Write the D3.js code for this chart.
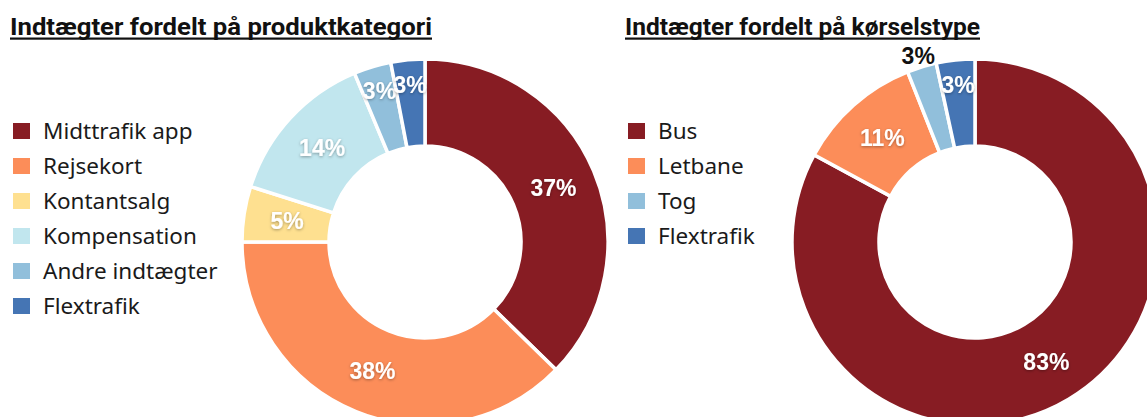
<!DOCTYPE html>
<html>
<head>
<meta charset="utf-8">
<script src="https://cdn.jsdelivr.net/npm/d3@7"></script>
<style>
  body { margin: 0; background: #fff; }
  svg { display: block; }
</style>
</head>
<body>
<div id="chart"></div>
<script>
// data
const produktKategorier = ["Midttrafik app", "Rejsekort", "Kontantsalg", "Kompensation", "Andre indtægter", "Flextrafik"];
const produktAndele = [37.3, 37.7, 4.9, 13.8, 3.3, 3.0];
const produktFarver = ["#871C23", "#FC8D59", "#FEE090", "#C1E6EE", "#91BFDB", "#4575B4"];

const koerselsTyper = ["Bus", "Letbane", "Tog", "Flextrafik"];
const koerselsAndele = [82.9, 11.1, 2.6, 3.4];
const koerselsFarver = ["#871C23", "#FC8D59", "#91BFDB", "#4575B4"];

const titler = ["Indtægter fordelt på produktkategori", "Indtægter fordelt på kørselstype"];

const width = 1147, height = 417;
const svg = d3.select("#chart").append("svg")
  .attr("width", width)
  .attr("height", height);

svg.append("rect").attr("width", width).attr("height", height).attr("fill", "#fff");

// skygge til labels
const filter = svg.append("defs").append("filter")
  .attr("id", "shadow")
  .attr("x", "-20%").attr("y", "-30%")
  .attr("width", "140%").attr("height", "160%");
filter.append("feDropShadow")
  .attr("dx", 0).attr("dy", 1)
  .attr("stdDeviation", 1.4)
  .attr("flood-color", "#000")
  .attr("flood-opacity", 0.35);

const rOuter = 183, rInner = 96;

function drawTitle(text, x, targetW) {
  svg.append("text")
    .attr("x", x)
    .attr("y", 35)
    .attr("font-family", "Roboto, 'Liberation Sans', sans-serif")
    .attr("font-weight", "bold")
    .attr("font-size", 24)
    .attr("fill", "#111")
    .attr("textLength", targetW)
    .attr("lengthAdjust", "spacingAndGlyphs")
    .text(text);
  // understregning
  svg.append("rect")
    .attr("x", x)
    .attr("y", 37.5)
    .attr("width", targetW)
    .attr("height", 2.2)
    .attr("fill", "#111");
}

function drawLegend(cats, colors, x) {
  const g = svg.append("g").attr("transform", `translate(${x},131)`);
  const row = g.selectAll("g")
    .data(cats)
    .enter().append("g")
    .attr("transform", (d, i) => `translate(0, ${i * 35})`);
  row.append("rect")
    .attr("x", 0).attr("y", -8)
    .attr("width", 17).attr("height", 16)
    .attr("fill", (d, i) => colors[i]);
  row.append("text")
    .attr("x", 30)
    .attr("y", 0)
    .attr("dy", "0.36em")
    .attr("font-family", "'Noto Sans', 'Open Sans', sans-serif")
    .attr("font-size", 22.5)
    .attr("fill", "#1a1a1a")
    .text(d => d);
}

function drawDonut(vals, colors, cx, cy, outside) {
  const pie = d3.pie().sort(null).value(d => d);
  const arcs = pie(vals);
  const arc = d3.arc().innerRadius(rInner).outerRadius(rOuter);
  const g = svg.append("g").attr("transform", `translate(${cx},${cy})`);

  g.selectAll("path")
    .data(arcs)
    .enter().append("path")
    .attr("d", arc)
    .attr("fill", (d, i) => colors[i])
    .attr("stroke", "#fff")
    .attr("stroke-width", 3.5);

  g.selectAll("text")
    .data(arcs)
    .enter().append("text")
    .attr("transform", (d, i) => {
      const share = (d.endAngle - d.startAngle) / (2 * Math.PI);
      let r = (rInner + rOuter) / 2;
      if (outside.includes(i)) r = rOuter + 12;
      else if (share < 0.04) r = 158;
      const a = (d.startAngle + d.endAngle) / 2;
      return `translate(${Math.sin(a) * r},${-Math.cos(a) * r})`;
    })
    .attr("text-anchor", "middle")
    .attr("dy", "0.36em")
    .attr("font-family", "'Liberation Sans', Arial, sans-serif")
    .attr("font-weight", "bold")
    .attr("font-size", 23)
    .attr("fill", (d, i) => outside.includes(i) ? "#111" : "#fff")
    .attr("filter", (d, i) => outside.includes(i) ? null : "url(#shadow)")
    .text(d => Math.round(d.data) + "%");
}

drawTitle(titler[0], 10, 422);
drawTitle(titler[1], 625, 355);

drawLegend(produktKategorier, produktFarver, 13);
drawLegend(koerselsTyper, koerselsFarver, 628);

drawDonut(produktAndele, produktFarver, 425, 242, []);
drawDonut(koerselsAndele, koerselsFarver, 975, 242, [2]);
</script>
</body>
</html>
